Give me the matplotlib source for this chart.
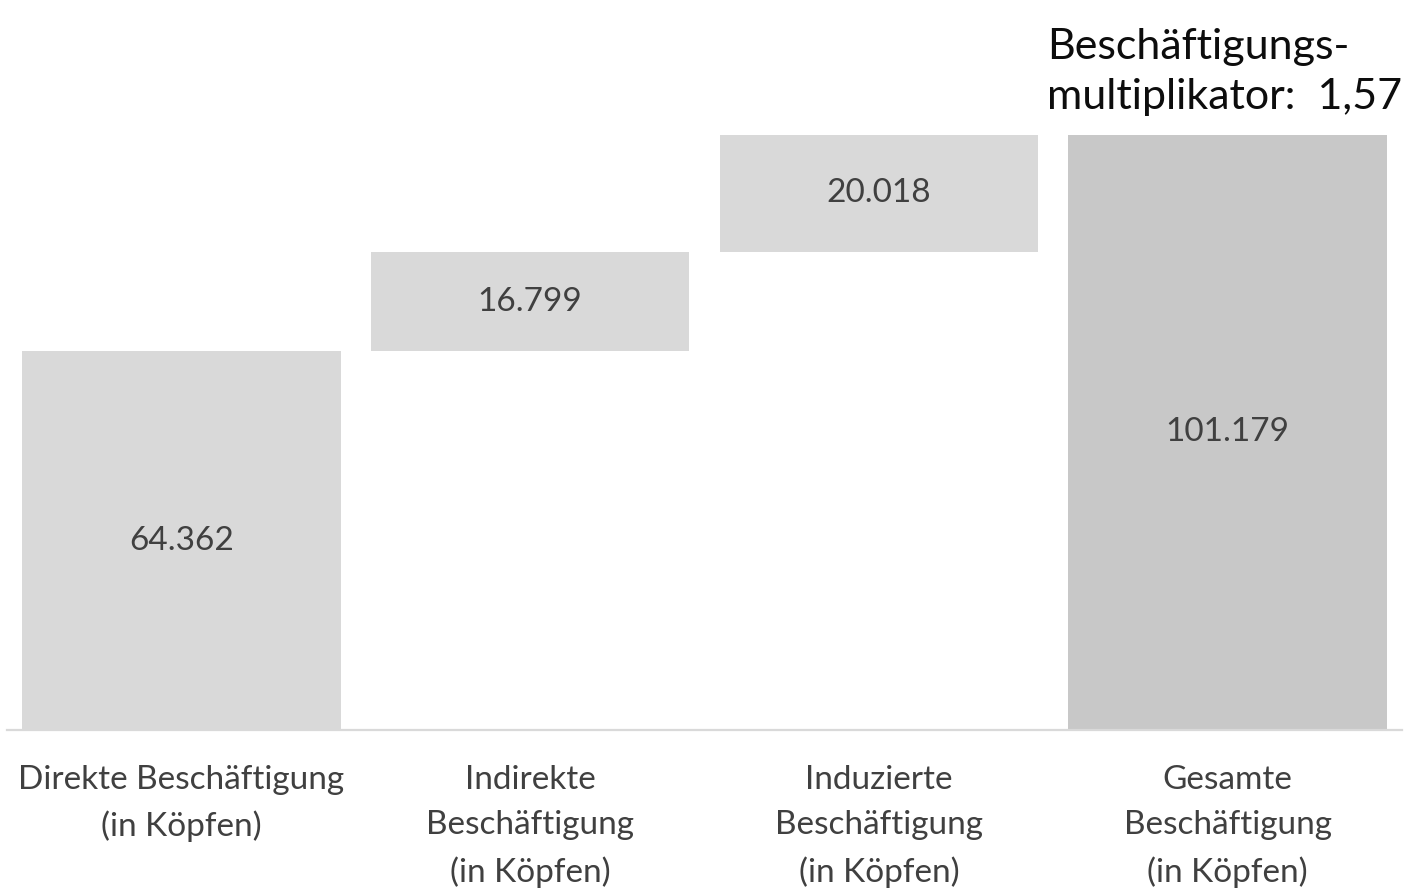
import matplotlib
matplotlib.use("Agg")
import matplotlib.pyplot as plt

categories = ["Direkte Beschäftigung\n(in Köpfen)",
              "Indirekte\nBeschäftigung\n(in Köpfen)",
              "Induzierte\nBeschäftigung\n(in Köpfen)",
              "Gesamte\nBeschäftigung\n(in Köpfen)"]
values = [64362, 16799, 20018, 101179]
is_total = [False, False, False, True]
value_labels = ["64.362", "16.799", "20.018", "101.179"]
multiplier_text = "Beschäftigungs-\nmultiplikator:  1,57"

plt.rcParams['font.family'] = ['Lato', 'DejaVu Sans']

fig = plt.figure(figsize=(14.24, 8.9), dpi=100)
ax = fig.add_axes([7/1424, (890-730)/890, 1395/1424, 730/890])

bottoms = []
running = 0
for v, t in zip(values, is_total):
    if t:
        bottoms.append(0)
    else:
        bottoms.append(running)
        running += v

colors = ['#c8c8c8' if t else '#d9d9d9' for t in is_total]
x = list(range(len(values)))
ax.bar(x, values, bottom=bottoms, width=0.913, color=colors, zorder=2)

for xi, v, b, lab in zip(x, values, bottoms, value_labels):
    ax.text(xi, b + v/2, lab, ha='center', va='center', fontsize=24, color='#404040', zorder=3)

ax.set_xlim(-0.5, 3.5)
ax.set_ylim(0, 730/0.005885)
for s in ['top', 'right', 'left']:
    ax.spines[s].set_visible(False)
ax.spines['bottom'].set_color('#d9d9d9')
ax.spines['bottom'].set_linewidth(1.6)
ax.set_yticks([])
ax.set_xticks(x)
ax.set_xticklabels(categories, fontsize=24, color='#404040', linespacing=1.63, va='top')
ax.tick_params(axis='x', length=0, pad=25)

fig.text(1047/1424, 1 - 72/890, multiplier_text, ha='left', va='center', fontsize=31,
         color='#0d0d0d', linespacing=1.36)
fig.savefig("out.png", dpi=100)
